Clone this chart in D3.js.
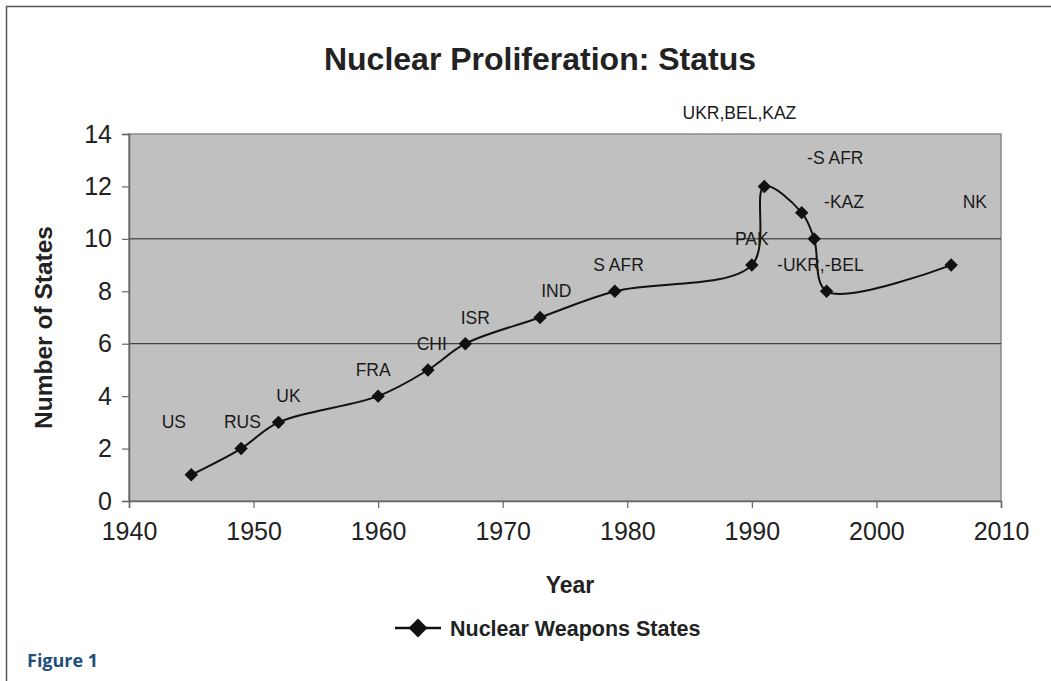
<!DOCTYPE html>
<html>
<head>
<meta charset="utf-8">
<script src="https://cdn.jsdelivr.net/npm/d3@7"></script>
<style>
  body { margin: 0; background: #fff; }
  svg text { font-family: "Liberation Sans", Arial, sans-serif; }
</style>
</head>
<body>
<svg id="chart" width="1051" height="681"></svg>
<script>
// data
const years = [1945, 1949, 1952, 1960, 1964, 1967, 1973, 1979, 1990, 1991, 1994, 1995, 1996, 2006];
const states = [1, 2, 3, 4, 5, 6, 7, 8, 9, 12, 11, 10, 8, 9];
const noteLabels = ['US', 'RUS', 'UK', 'FRA', 'CHI', 'ISR', 'IND', 'S AFR', 'PAK', 'UKR,BEL,KAZ', '-S AFR', '-KAZ', '-UKR,-BEL', 'NK'];
const noteYears = [1943.6, 1949.1, 1952.8, 1959.6, 1964.3, 1967.8, 1974.3, 1979.3, 1990.0, 1989.0, 1996.7, 1997.4, 1995.5, 2007.9];
const noteValues = [3, 3, 4, 5, 6, 7, 8, 9, 10, 14.8, 13.1, 11.4, 9, 11.4];
const xTicks = [1940, 1950, 1960, 1970, 1980, 1990, 2000, 2010];
const yTicks = [0, 2, 4, 6, 8, 10, 12, 14];
const gridValues = [6, 10];

const svg = d3.select('#chart');
const margin = { top: 134, right: 50, bottom: 180, left: 129 };
const width = 1051, height = 681;

// outer frame
svg.append('path')
  .attr('d', `M1051,6.5 H6.5 V681`)
  .attr('fill', 'none')
  .attr('stroke', '#555')
  .attr('stroke-width', 1.5);

const x = d3.scaleLinear().domain([1940, 2010]).range([margin.left, width - margin.right]);
const y = d3.scaleLinear().domain([0, 14]).range([height - margin.bottom, margin.top]);

// plot area
svg.append('rect')
  .attr('x', x(1940)).attr('y', y(14))
  .attr('width', x(2010) - x(1940)).attr('height', y(0) - y(14))
  .attr('fill', '#c0c0c0')
  .attr('stroke', '#8a8a8a')
  .attr('stroke-width', 1.5);

// gridlines (only two survive in the original)
svg.append('g').selectAll('line').data(gridValues).join('line')
  .attr('x1', x(1940)).attr('x2', x(2010))
  .attr('y1', d => y(d)).attr('y2', d => y(d))
  .attr('stroke', '#222').attr('stroke-width', 1);

// axes
const xAxis = svg.append('g')
  .attr('transform', `translate(0,${y(0)})`)
  .call(d3.axisBottom(x).tickValues(xTicks).tickFormat(d3.format('d')).tickSize(7).tickPadding(14));
const yAxis = svg.append('g')
  .attr('transform', `translate(${x(1940)},0)`)
  .call(d3.axisLeft(y).tickValues(yTicks).tickSize(7).tickPadding(10));
[xAxis, yAxis].forEach(a => {
  a.select('.domain').attr('stroke', '#666').attr('stroke-width', 1.5);
  a.selectAll('.tick line').attr('stroke', '#666').attr('stroke-width', 1.2);
  a.selectAll('.tick text')
    .attr('fill', '#222')
    .style('font-size', '25px')
    .style('font-family', '"Liberation Sans", Arial, sans-serif');
});

// line
const pts = years.map((d, i) => [d, states[i]]);
svg.append('path')
  .datum(pts)
  .attr('fill', 'none')
  .attr('stroke', '#111')
  .attr('stroke-width', 2)
  .attr('d', d3.line().x(d => x(d[0])).y(d => y(d[1])).curve(d3.curveCatmullRom.alpha(0.5)));

const diamond = d3.symbol().type(d3.symbolDiamond2).size(115);
svg.append('g').selectAll('path').data(pts).join('path')
  .attr('transform', d => `translate(${x(d[0])},${y(d[1])})`)
  .attr('d', diamond)
  .attr('fill', '#111');

// annotations
svg.append('g').selectAll('text').data(noteLabels).join('text')
  .attr('x', (d, i) => x(noteYears[i]))
  .attr('y', (d, i) => y(noteValues[i]))
  .attr('dy', '0.35em')
  .attr('text-anchor', 'middle')
  .attr('fill', '#1a1a1a')
  .style('font-size', '17.5px')
  .text(d => d);

// title and axis titles
svg.append('text')
  .attr('x', 540).attr('y', 70)
  .attr('text-anchor', 'middle')
  .style('font-size', '32px').style('font-weight', 'bold')
  .attr('fill', '#222')
  .text('Nuclear Proliferation: Status');

svg.append('text')
  .attr('x', 570).attr('y', 593)
  .attr('text-anchor', 'middle')
  .style('font-size', '23px').style('font-weight', 'bold')
  .attr('fill', '#222')
  .text('Year');

svg.append('text')
  .attr('transform', `translate(52,${(y(0) + y(14)) / 2 + 10}) rotate(-90)`)
  .attr('text-anchor', 'middle')
  .style('font-size', '24.5px').style('font-weight', 'bold')
  .attr('fill', '#222')
  .text('Number of States');

// legend
const lg = svg.append('g').attr('transform', 'translate(395,628)');
lg.append('line').attr('x1', 0).attr('x2', 46).attr('y1', 0).attr('y2', 0)
  .attr('stroke', '#111').attr('stroke-width', 2.5);
lg.append('path').attr('transform', 'translate(23,0)')
  .attr('d', d3.symbol().type(d3.symbolDiamond2).size(230)).attr('fill', '#111');
lg.append('text').attr('x', 55).attr('y', 0).attr('dy', '0.35em')
  .style('font-size', '21.5px').style('font-weight', 'bold')
  .attr('fill', '#222')
  .text('Nuclear Weapons States');

// figure caption
svg.append('text')
  .attr('x', 27).attr('y', 667)
  .style('font-size', '18px').style('font-weight', 'bold')
  .style('font-family', '"Open Sans", "Noto Sans", sans-serif')
  .attr('fill', '#1d4e7e')
  .text('Figure 1');
</script>
</body>
</html>
